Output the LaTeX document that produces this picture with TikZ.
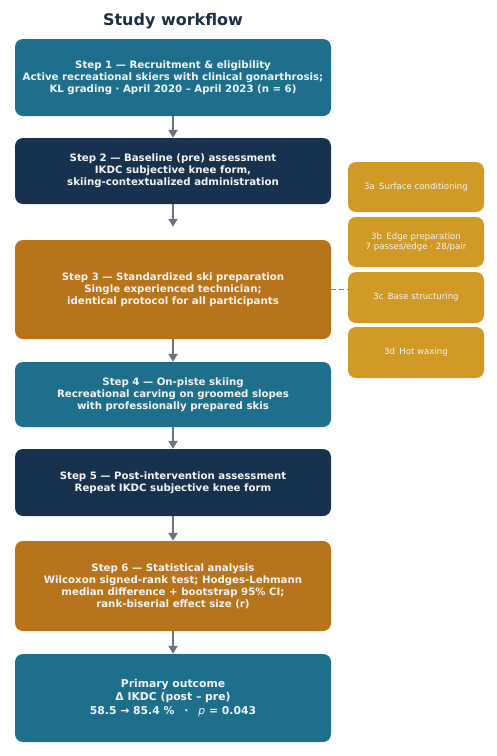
\documentclass[tikz,border=0pt]{standalone}
\usepackage{fontspec}
\setmainfont{DejaVu Sans}
\usetikzlibrary{arrows.meta}
\definecolor{cteal}{HTML}{1D6F8C}
\definecolor{cnavy}{HTML}{16324E}
\definecolor{corange}{HTML}{B8741A}
\definecolor{cgold}{HTML}{D19A26}
\definecolor{carrow}{HTML}{6B7380}
\definecolor{ctitle}{HTML}{1B2F47}
\definecolor{ctext}{HTML}{F4F4F4}
\tikzset{
  mainbox/.style={rectangle, rounded corners=8pt, minimum width=316pt, inner sep=0pt,
    text=ctext, align=center, font=\fontsize{10.2}{12}\selectfont\bfseries},
  subbox/.style={rectangle, rounded corners=8pt, minimum width=136pt, minimum height=50pt,
    inner sep=0pt, fill=cgold, text=ctext, align=center, font=\fontsize{8.6}{10.3}\selectfont},
  flow/.style={draw=carrow, line width=2pt, -{Triangle[length=8pt,width=9pt]}},
  link/.style={draw=corange, line width=1.8pt, dash pattern=on 5pt off 3pt}
}
\begin{document}
\begin{tikzpicture}[x=1pt,y=-1pt]
\useasboundingbox (0,0) rectangle (496,756);
\node[text=ctitle, font=\fontsize{16}{19}\selectfont\bfseries] (title) at (173,21) {Study workflow};
\node[mainbox, fill=cteal, minimum height=77pt] (s1) at (173,77.5)
  {Step 1 — Recruitment \& eligibility\\Active recreational skiers with clinical gonarthrosis;\\KL grading · April 2020 – April 2023 (n = 6)};
\node[mainbox, fill=cnavy, minimum height=66pt] (s2) at (173,171)
  {Step 2 — Baseline (pre) assessment\\IKDC subjective knee form,\\skiing-contextualized administration};
\node[mainbox, fill=corange, minimum height=99pt] (s3) at (173,289.5)
  {Step 3 — Standardized ski preparation\\Single experienced technician;\\identical protocol for all participants};
\node[mainbox, fill=cteal, minimum height=65pt] (s4) at (173,394.5)
  {Step 4 — On-piste skiing\\Recreational carving on groomed slopes\\with professionally prepared skis};
\node[mainbox, fill=cnavy, minimum height=67pt] (s5) at (173,482.5)
  {Step 5 — Post-intervention assessment\\Repeat IKDC subjective knee form};
\node[mainbox, fill=corange, minimum height=90pt] (s6) at (173,586)
  {Step 6 — Statistical analysis\\Wilcoxon signed-rank test; Hodges-Lehmann\\median difference + bootstrap 95\% CI;\\rank-biserial effect size (r)};
\node[mainbox, fill=cteal, minimum height=88pt, font=\fontsize{10.8}{13.5}\selectfont\bfseries] (out) at (173,698)
  {Primary outcome\\Δ IKDC (post – pre)\\58.5 → 85.4 \%\hspace{10pt}·\hspace{10pt}{\mdseries\itshape p} = 0.043};
\node[subbox] (sa) at (416,187) {3a\enspace Surface conditioning};
\node[subbox] (sb) at (416,242) {3b\enspace Edge preparation\\7 passes/edge · 28/pair};
\node[subbox, minimum height=51pt] (sc) at (416,297.5) {3c\enspace Base structuring};
\node[subbox, minimum height=51pt] (sd) at (416,352.5) {3d\enspace Hot waxing};
\draw[flow] (s1.south) -- (s2.north);
\draw[flow, shorten >=13pt] (s2.south) -- (s3.north);
\draw[flow] (s3.south) -- (s4.north);
\draw[flow] (s4.south) -- (s5.north);
\draw[flow] (s5.south) -- (s6.north);
\draw[flow] (s6.south) -- (out.north);
\draw[link] (s3.east) -- (s3.east -| sc.west);
\end{tikzpicture}
\end{document}
